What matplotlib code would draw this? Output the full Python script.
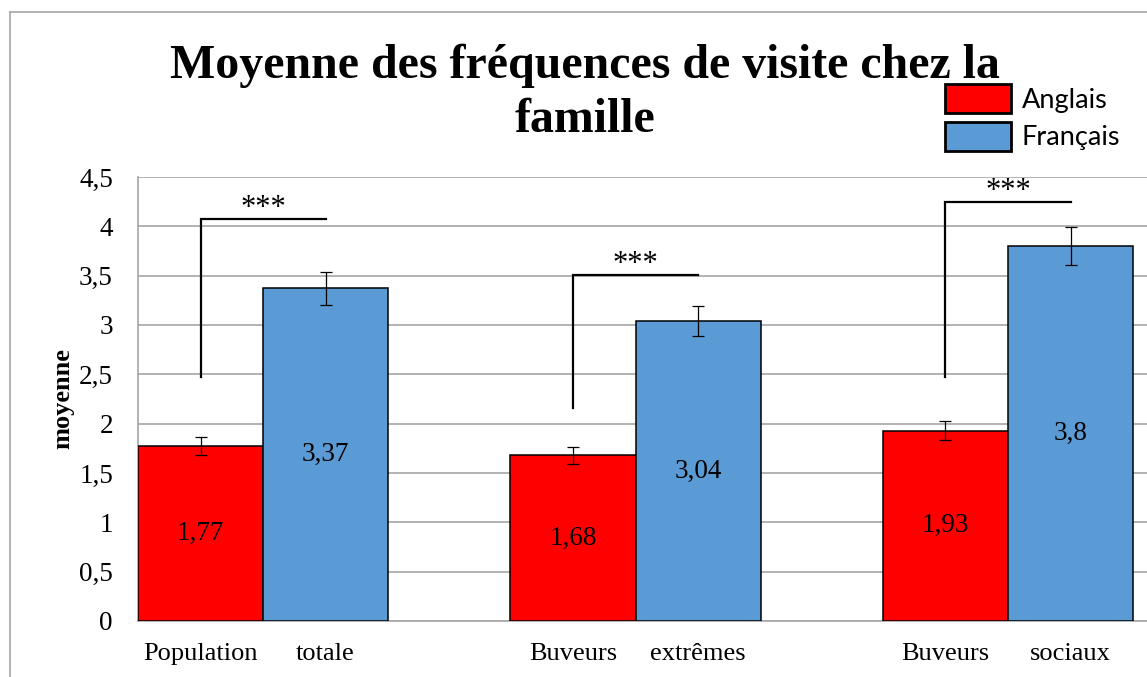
import matplotlib
matplotlib.use('Agg')
import matplotlib.pyplot as plt
import matplotlib.ticker as ticker
from matplotlib.patches import Rectangle
from matplotlib.lines import Line2D
import numpy as np

# data
groups = [('Population', 'totale'), ('Buveurs', 'extrêmes'), ('Buveurs', 'sociaux')]
series_names = ['Anglais', 'Français']
anglais = [1.77, 1.68, 1.93]
francais = [3.37, 3.04, 3.80]
anglais_err = [0.09, 0.085, 0.097]
francais_err = [0.17, 0.15, 0.19]
# significance brackets: start height above red bar, height of the top line
bracket_start = [2.47, 2.155, 2.47]
bracket_top = [4.07, 3.51, 4.245]
stars = ['***', '***', '***']

red = '#FF0000'
blue = '#5B9BD5'
grid_col = '#A6A6A6'
serif = 'Liberation Serif'

W, H = 1147, 677
fig = plt.figure(figsize=(W / 100, H / 100), dpi=100)
ax = fig.add_axes([138 / W, 1 - 621 / H, (W - 138) / W, (621 - 177) / H])

x = np.arange(len(groups))
bw = 0.3356

ax.bar(x - bw / 2, anglais, width=bw, color=red, edgecolor='black', linewidth=1.1, zorder=3)
ax.bar(x + bw / 2, francais, width=bw, color=blue, edgecolor='black', linewidth=1.1, zorder=3)
ax.errorbar(x - bw / 2, anglais, yerr=anglais_err, fmt='none', ecolor='black',
            elinewidth=0.9, capsize=4.5, capthick=0.9, zorder=4)
ax.errorbar(x + bw / 2, francais, yerr=francais_err, fmt='none', ecolor='black',
            elinewidth=0.9, capsize=4.5, capthick=0.9, zorder=4)

def fr(v):
    return f'{v:g}'.replace('.', ',')

# value labels in the middle of the bars
for xs, vals in ((x - bw / 2, anglais), (x + bw / 2, francais)):
    for xi, v in zip(xs, vals):
        ax.text(xi, v / 2, fr(v), ha='center', va='center', fontsize=19.5,
                family=serif, zorder=5)

# brackets with stars
for i in range(len(groups)):
    xl, xr = x[i] - bw / 2, x[i] + bw / 2
    ax.plot([xl, xl, xr], [bracket_start[i], bracket_top[i], bracket_top[i]],
            color='black', lw=1.6, zorder=5, solid_joinstyle='miter')
    ax.text((xl + xr) / 2, bracket_top[i] + 0.03, stars[i], ha='center', va='baseline',
            fontsize=22, family=serif, zorder=5)

ax.set_ylim(0, 4.5)
ax.set_xlim(-bw, (W - 263) / 372.5)
ax.yaxis.set_major_locator(ticker.MultipleLocator(0.5))
ax.yaxis.set_major_formatter(ticker.FuncFormatter(lambda v, p: fr(v)))
ax.yaxis.grid(True, color=grid_col, lw=1.2, zorder=0)
ax.set_axisbelow(True)

ticks = np.concatenate([x - bw / 2, x + bw / 2])
labels = [g[0] for g in groups] + [g[1] for g in groups]
ax.set_xticks(ticks)
ax.set_xticklabels(labels)
ax.tick_params(axis='x', length=0, pad=16, labelsize=19)
ax.tick_params(axis='y', length=0, pad=18, labelsize=19.5)
for lab in ax.get_xticklabels() + ax.get_yticklabels():
    lab.set_family(serif)

for s in ('top', 'right'):
    ax.spines[s].set_visible(False)
for s in ('left', 'bottom'):
    ax.spines[s].set_color(grid_col)
    ax.spines[s].set_linewidth(1.2)

# y label
fig.text(62.5 / W, 1 - 399 / H, 'moyenne', rotation=90, ha='center', va='center',
         fontsize=19, fontweight='bold', family=serif)

# title
fig.text(585 / W, 1 - 78 / H, 'Moyenne des fréquences de visite chez la', ha='center',
         va='baseline', fontsize=34.5, fontweight='bold', family=serif)
fig.text(585 / W, 1 - 132 / H, 'famille', ha='center', va='baseline', fontsize=34.5,
         fontweight='bold', family=serif)

# legend (drawn by hand, in pixel positions of the figure)
for k, (name, col) in enumerate(zip(series_names, [red, blue])):
    top = 84 + k * 37.5
    fig.add_artist(Rectangle((945 / W, 1 - (top + 29) / H), 66 / W, 29 / H,
                             facecolor=col, edgecolor='black', linewidth=2,
                             transform=fig.transFigure))
    fig.text(1022 / W, 1 - (top + 24) / H, name, ha='left', va='baseline',
             fontsize=19.5, family='Lato')

# outer chart frame
fig.add_artist(Line2D([10 / W, 10 / W], [0, 1 - 12 / H], color=grid_col, lw=1.2,
                      transform=fig.transFigure))
fig.add_artist(Line2D([10 / W, 1], [1 - 12 / H, 1 - 12 / H], color=grid_col, lw=1.2,
                      transform=fig.transFigure))

plt.savefig('out.png', dpi=100)
